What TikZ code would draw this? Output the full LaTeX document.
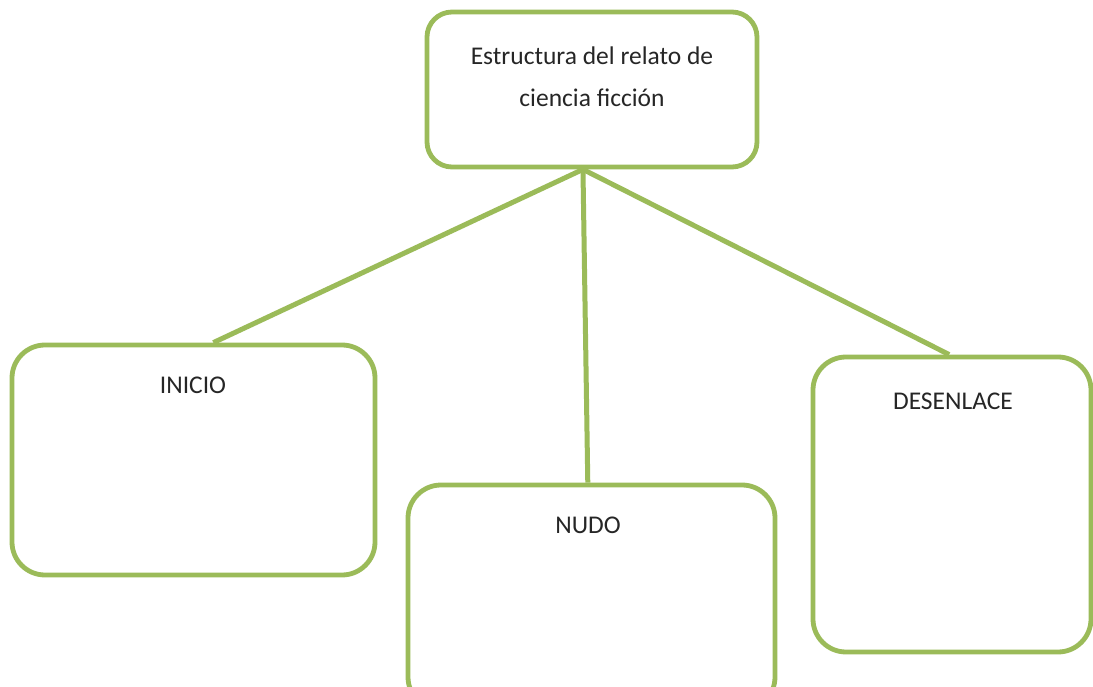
\documentclass[tikz,border=0pt]{standalone}
\usepackage{fontspec}
\setmainfont{Carlito}
\usetikzlibrary{calc}
\definecolor{olive}{HTML}{9BBB59}
\begin{document}
\begin{tikzpicture}[x=1pt,y=-1pt,
  box/.style={draw=olive,line width=4.8pt,rounded corners=33pt,inner sep=0pt,fill=white},
  conn/.style={draw=olive,line width=5pt},
  lbl/.style={font=\fontsize{25.5}{42}\selectfont,text=black!85,align=center,inner sep=0pt}]
\clip (0,0) rectangle (1093,687);
\fill[white] (0,0) rectangle (1093,687);
% boxes
\node[box,rounded corners=25pt,minimum width=330pt,minimum height=155pt] (top) at (592,89.5) {};
\node[box,minimum width=363pt,minimum height=230pt] (inicio) at (193.5,460) {};
\node[box,minimum width=367pt,minimum height=225pt] (nudo) at (591.5,597.5) {};
\node[box,minimum width=278pt,minimum height=295pt] (desenlace) at (952,504.5) {};
% connectors
\coordinate (hub) at ($(top.south west)!0.473!(top.south east)$);
\draw[conn] (hub) -- ($(inicio.north west)!0.554!(inicio.north east)$);
\draw[conn] (hub) -- ($(nudo.north west)!0.49!(nudo.north east)$);
\draw[conn] (hub) -- ($(desenlace.north west)!0.49!(desenlace.north east)$);
% labels
\node[lbl] (toptext) at (592,77) {Estructura del relato de\\ciencia ficción};
\node[lbl] (inicioT) at (193,385) {INICIO};
\node[lbl] (nudoT) at (588,525) {NUDO};
\node[lbl] (desT) at (953,401) {DESENLACE};
\end{tikzpicture}
\end{document}
